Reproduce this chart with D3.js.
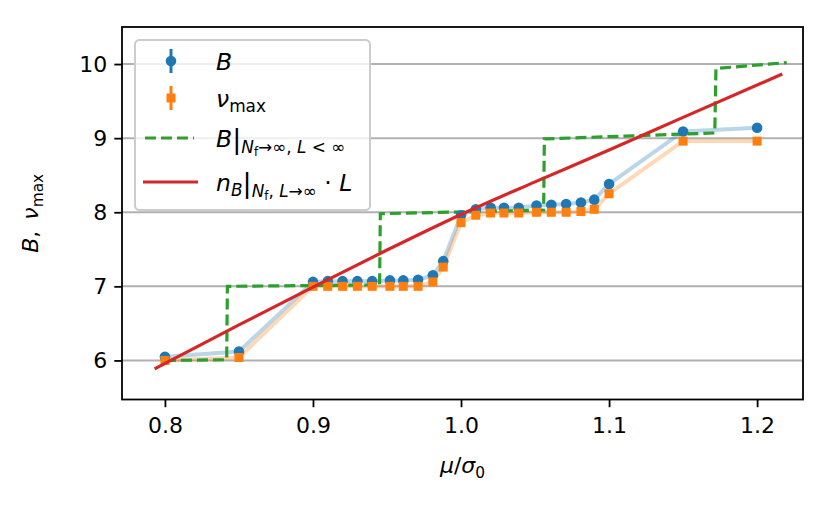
<!DOCTYPE html>
<html>
<head>
<meta charset="utf-8">
<script src="https://cdn.jsdelivr.net/npm/d3@7"></script>
<style>
  body { margin: 0; background: #fff; }
  svg { display: block; font-family: "DejaVu Sans", sans-serif; }
  .tick text { font-family: "DejaVu Sans", sans-serif; }
</style>
</head>
<body>
<svg id="chart" width="830" height="513"></svg>
<script>
// mu/sigma0 values of the measured points
const muVals = [0.8, 0.85, 0.9, 0.91, 0.92, 0.93, 0.94, 0.952, 0.961, 0.971, 0.981, 0.988,
                1.0, 1.01, 1.02, 1.029, 1.039, 1.051, 1.061, 1.071, 1.081, 1.09, 1.1, 1.15, 1.2];
const bVals = [6.05, 6.12, 7.06, 7.07, 7.07, 7.07, 7.07, 7.08, 7.08, 7.09, 7.15, 7.34,
               7.96, 8.04, 8.06, 8.06, 8.06, 8.09, 8.10, 8.11, 8.13, 8.17, 8.38, 9.09, 9.14];
const nuVals = [6.0, 6.04, 7.0, 7.0, 7.0, 7.0, 7.0, 7.0, 7.0, 7.0, 7.06, 7.26,
                7.86, 7.96, 7.99, 7.99, 7.99, 8.0, 8.0, 8.0, 8.01, 8.04, 8.25, 8.96, 8.96];

// staircase B for N_f -> inf, finite L
const stairMu = [0.8, 0.8417, 0.8422, 0.945, 0.9455, 1.0558, 1.0563, 1.1714, 1.1722, 1.22];
const stairB  = [6.0, 6.01, 7.0, 7.02, 7.98, 8.03, 8.99, 9.07, 9.94, 10.02];

// n_B * L in the thermodynamic limit
const nbMu = [0.793, 0.85, 0.9, 0.95, 1.0, 1.05, 1.1, 1.15, 1.217];
const nbL  = [5.886, 6.48, 6.99, 7.49, 7.97, 8.41, 8.84, 9.28, 9.865];

const xTicks = [0.8, 0.9, 1.0, 1.1, 1.2];
const yTicks = [6, 7, 8, 9, 10];

const C = { blue: "#1f77b4", orange: "#ff7f0e", green: "#2ca02c", red: "#d62728" };
const FS = 22;

const svg = d3.select("#chart");
const W = 830, H = 513;
const m = { l: 122, r: 27, t: 27, b: 113.5 };

const x = d3.scaleLinear().domain([0.771, 1.231]).range([m.l, W - m.r]);
const y = d3.scaleLinear().domain([5.473, 10.5]).range([H - m.b, m.t]);

// grid
svg.append("g").selectAll("line").data(yTicks).enter().append("line")
  .attr("x1", m.l).attr("x2", W - m.r)
  .attr("y1", d => y(d)).attr("y2", d => y(d))
  .attr("stroke", "#b0b0b0").attr("stroke-width", 2);

const pts = (xs, ys) => xs.map((v, i) => [v, ys[i]]);
const line = d3.line().x(d => x(d[0])).y(d => y(d[1]));

// faint connecting lines
svg.append("path").attr("d", line(pts(muVals, bVals)))
  .attr("fill", "none").attr("stroke", C.blue).attr("stroke-opacity", 0.3).attr("stroke-width", 4);
svg.append("path").attr("d", line(pts(muVals, nuVals)))
  .attr("fill", "none").attr("stroke", C.orange).attr("stroke-opacity", 0.3).attr("stroke-width", 4);

// staircase
svg.append("path").attr("d", line(pts(stairMu, stairB)))
  .attr("fill", "none").attr("stroke", C.green).attr("stroke-width", 3.2)
  .attr("stroke-dasharray", "11,5");

// markers
svg.append("g").selectAll("circle").data(pts(muVals, bVals)).enter().append("circle")
  .attr("cx", d => x(d[0])).attr("cy", d => y(d[1])).attr("r", 5.3).attr("fill", C.blue);
const sq = 9;
svg.append("g").selectAll("rect").data(pts(muVals, nuVals)).enter().append("rect")
  .attr("x", d => x(d[0]) - sq / 2).attr("y", d => y(d[1]) - sq / 2)
  .attr("width", sq).attr("height", sq).attr("fill", C.orange);

// n_B L
svg.append("path").attr("d", d3.line().curve(d3.curveMonotoneX).x(d => x(d[0])).y(d => y(d[1]))(pts(nbMu, nbL)))
  .attr("fill", "none").attr("stroke", C.red).attr("stroke-width", 3.2);

// axes
const xa = svg.append("g").attr("transform", `translate(0,${H - m.b})`)
  .call(d3.axisBottom(x).tickValues(xTicks).tickFormat(d3.format(".1f")).tickSize(7.7).tickPadding(10));
const ya = svg.append("g").attr("transform", `translate(${m.l},0)`)
  .call(d3.axisLeft(y).tickValues(yTicks).tickFormat(d3.format("d")).tickSize(7.7).tickPadding(7));
[xa, ya].forEach(a => {
  a.select(".domain").remove();
  a.selectAll(".tick line").attr("stroke", "#000").attr("stroke-width", 1.8);
  a.selectAll(".tick text").attr("font-size", FS).attr("fill", "#000");
});
svg.append("rect").attr("x", m.l).attr("y", m.t)
  .attr("width", W - m.r - m.l).attr("height", H - m.b - m.t)
  .attr("fill", "none").attr("stroke", "#000").attr("stroke-width", 1.8);

// rich text helper: parts = [text, italic, scale, shift]
function rich(g, px, py, parts, anchor, fs) {
  const base = fs || FS;
  const t = g.append("text").attr("x", px).attr("y", py).attr("fill", "#000")
    .attr("text-anchor", anchor || "start");
  let prev = 0;
  parts.forEach(p => {
    const [s, it, sc, sh] = p;
    t.append("tspan").text(s)
      .attr("font-style", it ? "italic" : "normal")
      .attr("font-size", base * (sc || 1))
      .attr("dy", (sh || 0) - prev);
    prev = sh || 0;
  });
  return t;
}

// axis labels
rich(svg, (m.l + W - m.r) / 2, 473, [["μ", 1], ["/", 0], ["σ", 1], ["0", 0, 0.7, 5]], "middle");
const yl = svg.append("g").attr("transform", `translate(38,${(m.t + H - m.b) / 2}) rotate(-90)`);
rich(yl, 0, 0, [["B", 1], [",\u2002", 0], ["ν", 1], ["max", 0, 0.7, 4.5]], "middle");

// legend
const LF = 23.5;
const lg = svg.append("g");
lg.append("rect").attr("x", 135).attr("y", 40).attr("width", 235).attr("height", 170)
  .attr("rx", 4.5).attr("fill", "#fff").attr("fill-opacity", 0.8)
  .attr("stroke", "#cccccc").attr("stroke-width", 2);
const rows = [61, 98, 138, 182];
const hx0 = 145, hx1 = 198, hc = 171, tx = 216;
lg.append("line").attr("x1", hc).attr("x2", hc).attr("y1", rows[0] - 12).attr("y2", rows[0] + 12)
  .attr("stroke", C.blue).attr("stroke-width", 3);
lg.append("circle").attr("cx", hc).attr("cy", rows[0]).attr("r", 5.3).attr("fill", C.blue);
lg.append("line").attr("x1", hc).attr("x2", hc).attr("y1", rows[1] - 12).attr("y2", rows[1] + 12)
  .attr("stroke", C.orange).attr("stroke-width", 3);
lg.append("rect").attr("x", hc - sq / 2).attr("y", rows[1] - sq / 2).attr("width", sq).attr("height", sq)
  .attr("fill", C.orange);
lg.append("line").attr("x1", hx0).attr("x2", hx0 + 49).attr("y1", rows[2]).attr("y2", rows[2])
  .attr("stroke", C.green).attr("stroke-width", 3.2).attr("stroke-dasharray", "11,5");
lg.append("line").attr("x1", hx0 - 2).attr("x2", hx1).attr("y1", rows[3]).attr("y2", rows[3])
  .attr("stroke", C.red).attr("stroke-width", 3.2);

rich(lg, tx, rows[0] + 9, [["B", 1]], null, LF);
rich(lg, tx, rows[1] + 9, [["ν", 1], ["max", 0, 0.72, 5]], null, LF);
rich(lg, tx, rows[2] + 9, [["B", 1], ["|", 0, 1.15, 1], ["N", 1, 0.72, 6], ["f", 0, 0.5, 9], ["→∞, ", 0, 0.72, 6],
  ["L", 1, 0.72, 6], [" < ∞", 0, 0.72, 6]], null, LF);
rich(lg, tx, rows[3] + 9, [["n", 1], ["B", 1, 0.72, 5], ["|", 0, 1.15, 1], ["N", 1, 0.72, 6], ["f", 0, 0.5, 9],
  [", ", 0, 0.72, 6], ["L", 1, 0.72, 6], ["→∞", 0, 0.72, 6], ["  · ", 0, 1, 0], ["L", 1, 1, 0]], null, LF);
</script>
</body>
</html>
